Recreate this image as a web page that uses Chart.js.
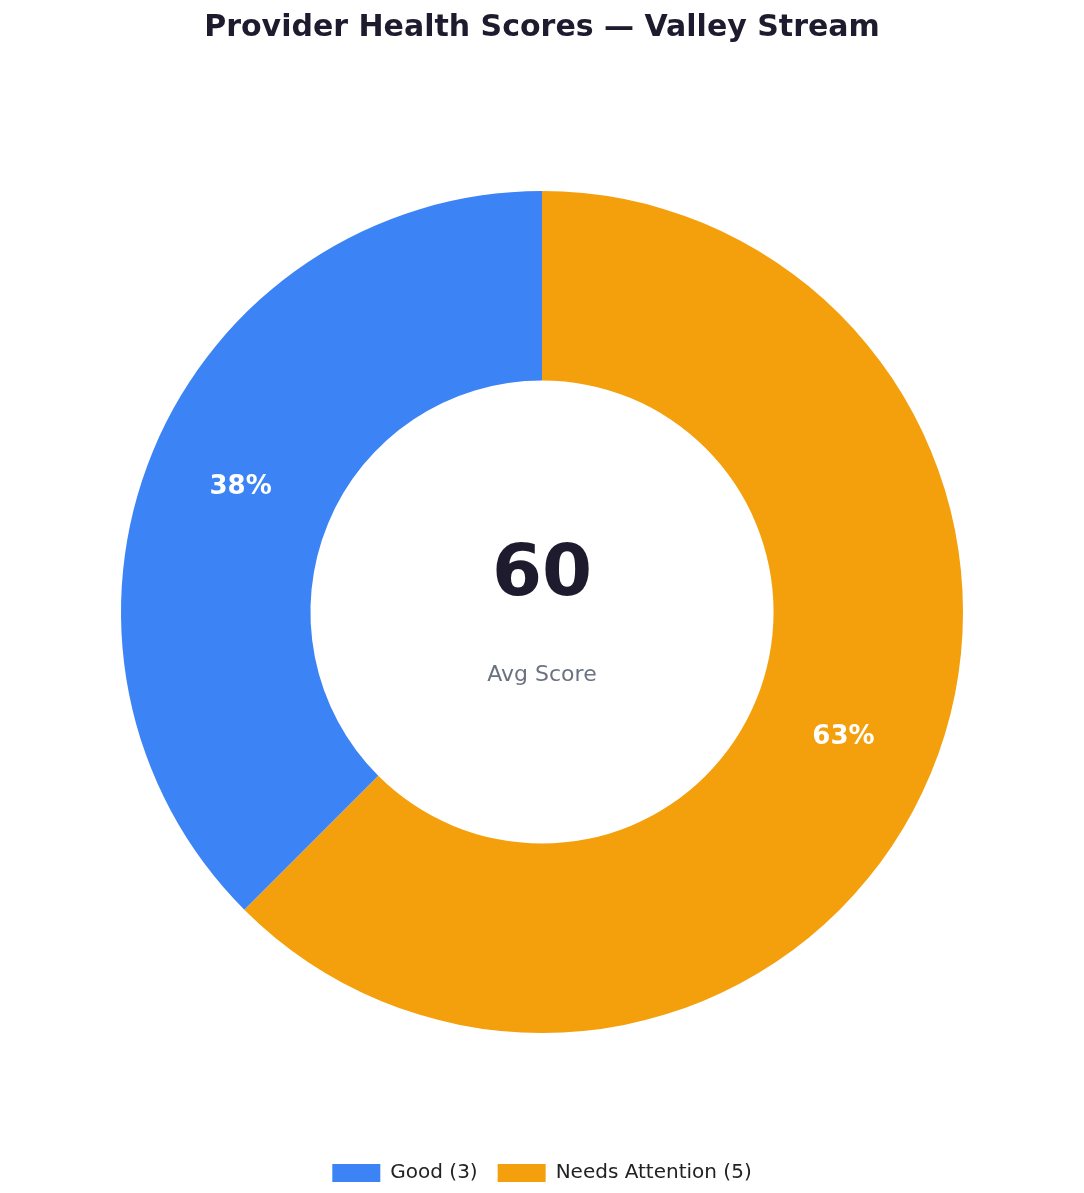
<!DOCTYPE html>
<html>
<head>
<meta charset="utf-8">
<script src="https://cdn.jsdelivr.net/npm/chart.js@4"></script>
<style>
  html, body { margin: 0; padding: 0; background: #fff; }
  #wrap { width: 1084px; height: 1193px; }
</style>
</head>
<body>
<div id="wrap"><canvas id="chart"></canvas></div>
<script>
// data (drawn order is clockwise from top, legend is reversed)
const labels = ['Needs Attention (5)', 'Good (3)'];
const counts = [5, 3];
const colors = ['#f49f0c', '#3c83f6'];
const avgScore = '60';
const avgLabel = 'Avg Score';

const total = counts.reduce((a, b) => a + b, 0);

const sliceLabels = {
  id: 'sliceLabels',
  afterDatasetsDraw(chart) {
    const ctx = chart.ctx;
    const meta = chart.getDatasetMeta(0);
    ctx.save();
    ctx.fillStyle = '#fff';
    ctx.font = 'bold 26px "DejaVu Sans"';
    ctx.textAlign = 'center';
    ctx.textBaseline = 'middle';
    meta.data.forEach((arc, i) => {
      const mid = (arc.startAngle + arc.endAngle) / 2;
      const r = (arc.innerRadius + arc.outerRadius) / 2;
      const pct = Math.round(counts[i] / total * 100) + '%';
      ctx.fillText(pct, arc.x + Math.cos(mid) * r, arc.y + Math.sin(mid) * r);
    });
    const c = meta.data[0];
    ctx.fillStyle = '#1e1b2e';
    ctx.font = 'bold 72px "DejaVu Sans"';
    ctx.fillText(avgScore, c.x, c.y - 36);
    ctx.fillStyle = '#6b7280';
    ctx.font = '22px "DejaVu Sans"';
    ctx.fillText(avgLabel, c.x, c.y + 63);
    ctx.restore();
  }
};

new Chart(document.getElementById('chart'), {
  type: 'doughnut',
  data: {
    labels,
    datasets: [{ data: counts, backgroundColor: colors, borderWidth: 0 }]
  },
  options: {
    responsive: true,
    maintainAspectRatio: false,
    animation: false,
    cutout: '55%',
    layout: { padding: { left: 121, right: 121 } },
    plugins: {
      title: {
        display: true,
        text: 'Provider Health Scores — Valley Stream',
        color: '#1e1b2e',
        font: { family: 'DejaVu Sans', size: 30, weight: 'bold' },
        padding: { top: 10, bottom: 35 }
      },
      legend: {
        position: 'bottom',
        reverse: true,
        padding: { top: 0, bottom: 6 },
        labels: {
          boxWidth: 48,
          boxHeight: 18,
          padding: 20,
          color: '#222',
          font: { family: 'DejaVu Sans', size: 20 }
        }
      },
      tooltip: { enabled: false }
    }
  },
  plugins: [sliceLabels]
});
</script>
</body>
</html>
